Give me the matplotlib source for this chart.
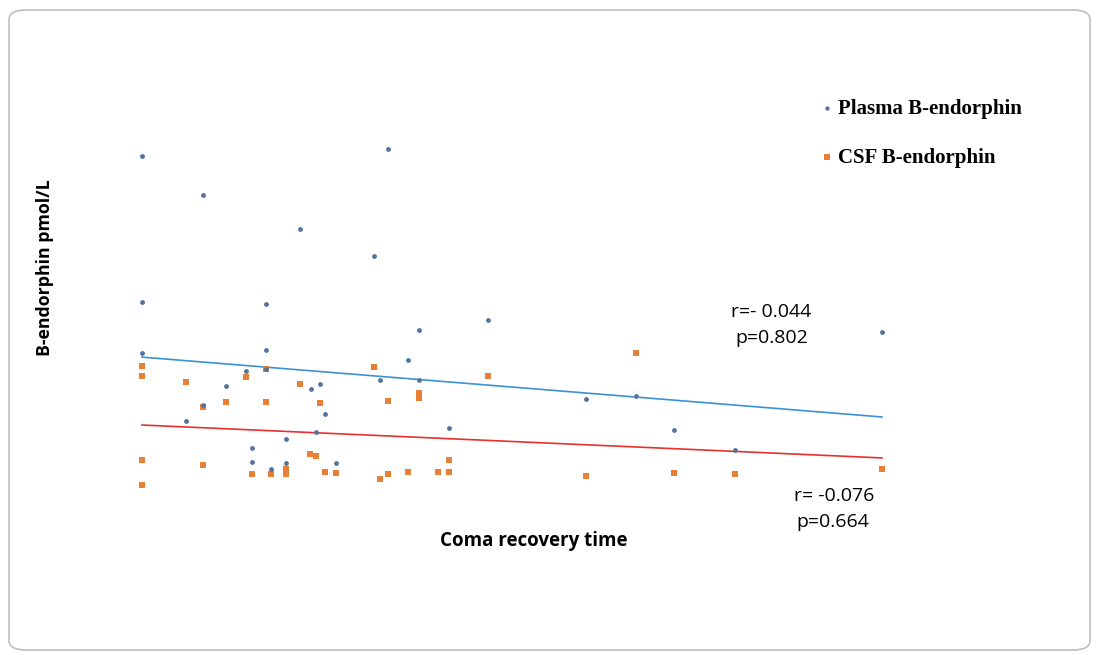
import matplotlib.pyplot as plt
from matplotlib.patches import FancyBboxPatch

# Coma recovery time (arbitrary units, read from point positions) and B-endorphin values
plasma_x = [0.0, 8.2, 21.4, 0.0, 16.8, 0.0, 16.8, 14.1, 11.4, 22.8, 24.0, 8.2, 24.7, 6.0,
            23.5, 19.4, 14.9, 14.9, 17.5, 19.4, 26.2, 16.8, 33.3, 31.4, 37.4, 46.8, 36.0,
            32.2, 37.4, 41.5, 100.0, 60.0, 66.7, 71.9, 80.1]
plasma_y = [96.9, 85.6, 76.0, 55.1, 54.7, 40.5, 41.4, 35.5, 31.2, 30.3, 31.7, 25.7, 23.1, 21.2,
            17.9, 16.0, 13.5, 9.4, 7.4, 9.1, 9.1, 35.9, 98.9, 68.4, 47.1, 50.1, 38.5,
            32.9, 32.9, 19.2, 46.5, 27.3, 28.3, 18.6, 12.9]

csf_x = [0.0, 0.0, 6.0, 14.1, 16.8, 21.4, 8.2, 11.4, 16.8, 24.0, 0.0, 8.2, 22.7, 23.5,
         14.9, 17.5, 19.4, 19.4, 24.7, 26.2, 0.0, 31.4, 33.3, 37.4, 37.4, 46.8, 32.2,
         33.3, 36.0, 40.0, 41.5, 41.5, 66.7, 60.0, 71.9, 80.1, 100.0]
csf_y = [36.9, 34.1, 32.4, 33.8, 35.9, 31.7, 25.1, 26.7, 26.7, 26.2, 10.0, 8.6, 11.7, 11.1,
         5.9, 5.9, 7.4, 5.9, 6.5, 6.2, 2.9, 36.5, 26.9, 29.1, 27.6, 33.9, 4.5,
         6.0, 6.5, 6.5, 6.5, 10.1, 40.5, 5.4, 6.4, 6.0, 7.4]

# trend lines (end points)
trend_x = [0.0, 100.0]
plasma_trend = [39.4, 22.3]
csf_trend = [20.0, 10.6]

fig = plt.figure(figsize=(10.97, 6.55), dpi=100)

# rounded frame around the whole chart (behind the axes)
cadre = FancyBboxPatch((9 / 1097, 5 / 655), 1081 / 1097, 640 / 655,
                       boxstyle="round,pad=0,rounding_size=0.015",
                       transform=fig.transFigure, facecolor='white',
                       edgecolor='#BFBFBF', linewidth=1.2, zorder=-5)
fig.patches.append(cadre)

ax = fig.add_axes([0.0957, 0.2282, 0.7420, 0.5611])
ax.set_xlim(-5, 105)
ax.set_ylim(-3, 102)
ax.axis('off')
ax.patch.set_alpha(0)

ax.plot(trend_x, plasma_trend, color='#3A92D3', linewidth=1.2, zorder=2)
ax.plot(trend_x, csf_trend, color='#E8302E', linewidth=1.2, zorder=2)

ax.scatter(csf_x, csf_y, marker='s', s=24, color='#E97E35', linewidths=0,
           label='CSF B-endorphin', zorder=3, clip_on=False)
ax.scatter(plasma_x, plasma_y, marker='o', s=12, color='#53739F', linewidths=0,
           label='Plasma B-endorphin', zorder=4, clip_on=False)

# legend, plasma first
handles, labels = ax.get_legend_handles_labels()
fig.legend(handles[::-1], labels[::-1], loc='upper left',
           bbox_to_anchor=(798 / 1097, 1 - 80 / 655), frameon=False,
           prop={'family': 'Liberation Serif', 'weight': 'bold', 'size': 15},
           labelspacing=1.4, handletextpad=0.0, markerscale=0.9, handlelength=1.0)

fig.text(534 / 1097, 1 - 541 / 655, 'Coma recovery time', ha='center', va='center',
         family='Open Sans', fontweight='bold', fontsize=13.5)
fig.text(45 / 1097, 1 - 268 / 655, 'B-endorphin pmol/L', ha='center', va='center',
         rotation=90, family='Open Sans', fontweight='bold', fontsize=12.8)

fig.text(731 / 1097, 1 - 312 / 655, 'r=- 0.044', ha='left', va='center',
         family='Open Sans', fontsize=14)
fig.text(735 / 1097, 1 - 338 / 655, 'p=0.802', ha='left', va='center',
         family='Open Sans', fontsize=14)
fig.text(794 / 1097, 1 - 496 / 655, 'r= -0.076', ha='left', va='center',
         family='Open Sans', fontsize=14)
fig.text(796 / 1097, 1 - 522 / 655, 'p=0.664', ha='left', va='center',
         family='Open Sans', fontsize=14)

fig.savefig('out.png', dpi=100)
